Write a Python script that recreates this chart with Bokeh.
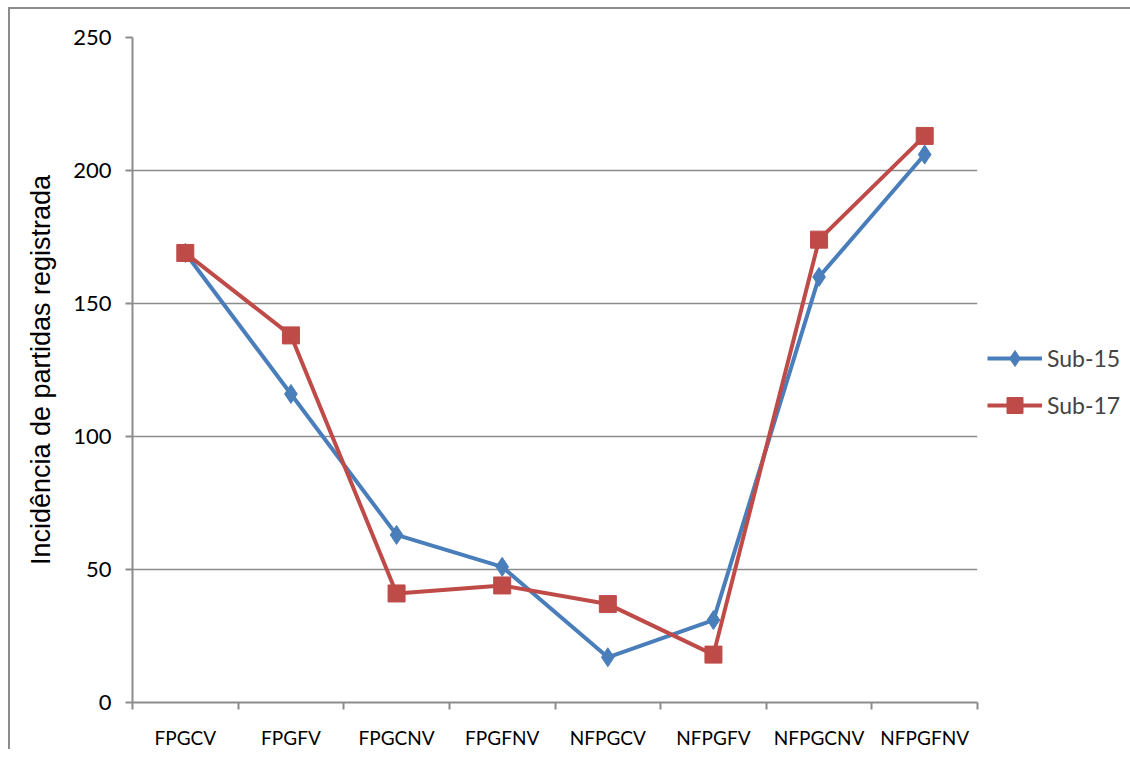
import numpy as np
from bokeh.plotting import figure
from bokeh.layouts import column, row
from bokeh.models import FixedTicker, Legend, LegendItem, Range1d, Spacer
from bokeh.embed import file_html
from bokeh.resources import INLINE

categories = ["FPGCV", "FPGFV", "FPGCNV", "FPGFNV", "NFPGCV", "NFPGFV", "NFPGCNV", "NFPGFNV"]
sub15 = [169, 116, 63, 51, 17, 31, 160, 206]
sub17 = [169, 138, 41, 44, 37, 18, 174, 213]
y_ticks = [0, 50, 100, 150, 200, 250]

xs = np.arange(len(categories)) + 0.5

p = figure(frame_width=843, frame_height=663, output_backend="svg", toolbar_location=None,
           x_range=Range1d(0, len(categories)), y_range=Range1d(0, 250),
           min_border_left=122, min_border_top=28, min_border_right=145, min_border_bottom=30)
p.styles = {"border-left": "2px solid #8c8c8c", "border-top": "2px solid #8c8c8c"}
p.outline_line_color = None
p.background_fill_color = "white"

blue = "#4a7ebb"
red = "#be4b48"

l1 = p.line(xs, sub15, line_color=blue, line_width=4)
m1 = p.scatter(xs, sub15, marker="diamond", size=19, fill_color=blue, line_color=blue)
l2 = p.line(xs, sub17, line_color=red, line_width=4)
m2 = p.scatter(xs, sub17, marker="square", size=17, fill_color=red, line_color=red)

# x axis
p.xaxis.ticker = FixedTicker(ticks=list(xs), minor_ticks=list(range(len(categories) + 1)))
p.xaxis.major_label_overrides = {float(x): c for x, c in zip(xs, categories)}
p.xaxis.major_tick_line_color = None
p.xaxis.minor_tick_line_color = "#8c8c8c"
p.xaxis.minor_tick_line_width = 2
p.xaxis.minor_tick_out = 7
p.xaxis.minor_tick_in = 0
p.xaxis.major_tick_out = 0
p.xaxis.major_tick_in = 0
p.xaxis.major_label_standoff = 16
p.xaxis.axis_line_color = "#8c8c8c"
p.xaxis.axis_line_width = 2
p.xaxis.major_label_text_font = "Lato"
p.xaxis.major_label_text_font_size = "19px"
p.xaxis.major_label_text_color = "black"

# y axis
p.yaxis.ticker = FixedTicker(ticks=y_ticks)
p.yaxis.minor_tick_line_color = None
p.yaxis.major_tick_line_color = "#8c8c8c"
p.yaxis.major_tick_line_width = 2
p.yaxis.major_tick_out = 7
p.yaxis.major_tick_in = 0
p.yaxis.axis_line_color = "#8c8c8c"
p.yaxis.axis_line_width = 2
p.yaxis.major_label_standoff = 14
p.yaxis.major_label_text_font = "Lato"
p.yaxis.major_label_text_font_size = "22px"
p.yaxis.major_label_text_color = "black"
p.yaxis.axis_label = "Incidência de partidas registrada"
p.yaxis.axis_label_text_font = "Liberation Sans"
p.yaxis.axis_label_text_font_size = "27px"
p.yaxis.axis_label_text_font_style = "normal"
p.yaxis.axis_label_text_color = "black"
p.yaxis.axis_label_standoff = 14

p.xgrid.grid_line_color = None
p.ygrid.ticker = FixedTicker(ticks=y_ticks)
p.ygrid.grid_line_color = "#8c8c8c"
p.ygrid.grid_line_width = 1.5

legend = Legend(items=[LegendItem(label="Sub-15", renderers=[l1, m1]),
                       LegendItem(label="Sub-17", renderers=[l2, m2])],
                location=(10, 277))
legend.border_line_color = None
legend.background_fill_alpha = 0
legend.glyph_width = 55
legend.glyph_height = 40
legend.spacing = 7
legend.label_text_font = "Lato"
legend.label_text_font_size = "23px"
legend.label_standoff = 5
legend.margin = 0
legend.padding = 0
p.add_layout(legend, "right")

layout = column(Spacer(height=7), row(Spacer(width=8), p))
open("out.html", "w").write(file_html(layout, INLINE))
